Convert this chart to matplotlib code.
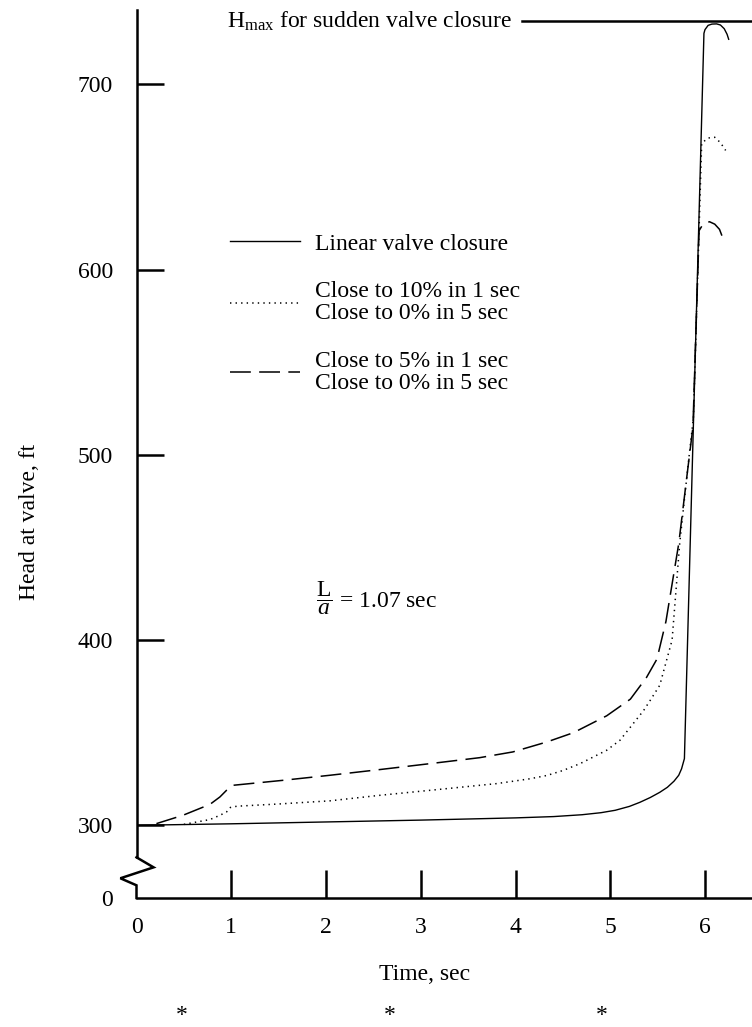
#!/usr/bin/env python3
"""
Head at valve vs time for three valve closure schedules
"""
import matplotlib
matplotlib.use('Agg')
import matplotlib.pyplot as plt

plt.rcParams['font.family'] = ['Liberation Serif', 'DejaVu Serif']
plt.rcParams['mathtext.fontset'] = 'custom'
plt.rcParams['mathtext.rm'] = 'Liberation Serif'
plt.rcParams['mathtext.it'] = 'Liberation Serif:italic'
plt.rcParams['lines.scale_dashes'] = False

# linear valve closure
t_linear = [0.0, 1.0, 2.0, 3.0, 4.0, 4.4, 4.7, 4.9, 5.05, 5.2, 5.31, 5.42,
            5.52, 5.6, 5.67, 5.72, 5.75, 5.78, 5.986, 5.997, 6.03, 6.07,
            6.12, 6.16, 6.20, 6.23, 6.247]
h_linear = [300.0, 300.8, 301.8, 302.8, 304.0, 304.7, 305.7, 306.8, 308.1,
            310.2, 312.4, 315.0, 317.8, 320.5, 323.8, 327.0, 330.5, 336.0,
            727.5, 729.5, 731.8, 732.5, 732.6, 732.0, 730.0, 727.0, 724.3]

# close to 10% in 1 sec, to 0% in 5 sec
t_10 = [0.50, 0.775, 0.88, 0.95, 0.99, 1.06, 1.5, 2.04, 2.57, 3.10, 3.80,
        4.15, 4.33, 4.50, 4.68, 4.96, 5.10, 5.24, 5.35, 5.42, 5.52, 5.65,
        5.73, 5.82, 5.875, 5.962, 6.03, 6.10, 6.16, 6.215]
h_10 = [300.5, 303.1, 305.4, 307.2, 309.6, 310.3, 311.5, 313.2, 316.2, 318.9,
        322.5, 325.1, 326.9, 329.6, 333.3, 340.5, 345.9, 354.9, 362.0, 367.5,
        375.6, 400.0, 452.0, 495.0, 520.0, 668.2, 671.0, 671.4, 668.5, 664.3]

# close to 5% in 1 sec, to 0% in 5 sec
t_5 = [0.21, 0.49, 0.775, 0.88, 0.95, 1.02, 1.55, 2.04, 2.57, 3.10, 3.62,
       3.97, 4.15, 4.33, 4.61, 4.96, 5.21, 5.38, 5.49, 5.585, 5.72, 5.81,
       5.87, 5.935, 5.98, 6.045, 6.10, 6.15, 6.18]
h_5 = [300.9, 305.4, 311.3, 315.3, 318.9, 321.6, 324.3, 327.0, 330.1, 333.3,
       336.5, 339.6, 342.3, 345.0, 350.0, 359.1, 368.1, 379.8, 389.7, 410.0,
       452.0, 490.0, 515.0, 621.0, 624.8, 625.8, 624.5, 621.7, 617.7]

labels = ['Linear valve closure',
          'Close to 10% in 1 sec\nClose to 0% in 5 sec',
          'Close to 5% in 1 sec\nClose to 0% in 5 sec']

y_ticks = [300, 400, 500, 600, 700]
x_ticks = [0, 1, 2, 3, 4, 5, 6]
H_MAX = 734.2
L_OVER_A = 1.07

# axis range, the bottom is the broken "0" level
X_MAX = 6.493
Y_TOP = 740.1
Y_BREAK = 260.75

FS = 17
AXW = 1.8

fig = plt.figure(figsize=(7.52, 10.27), dpi=100)
ax = fig.add_axes([136.5 / 752, 1 - 898 / 1027, 1 - 136.5 / 752, 888 / 1027])
ax.set_xlim(0, X_MAX)
ax.set_ylim(Y_BREAK, Y_TOP)

ax.plot(t_linear, h_linear, color='black', lw=1.0, label=labels[0])
ax.plot(t_10, h_10, color='black', lw=1.1, linestyle=(0, (1, 3)),
        label=labels[1])
ax.plot(t_5, h_5, color='black', lw=1.1, linestyle=(0, (15, 6)),
        label=labels[2])

# axes: left spine broken by a zigzag above the bottom axis
for side in ['top', 'right']:
    ax.spines[side].set_visible(False)
ax.spines['bottom'].set_linewidth(AXW)
ax.spines['left'].set_linewidth(AXW)
ax.spines['left'].set_bounds(282.7, Y_TOP)
ax.plot([0, 0.18, -0.17, 0, 0], [282.7, 277.3, 271.4, 267.6, Y_BREAK],
        color='black', lw=AXW, clip_on=False, solid_joinstyle='miter')

ax.set_xticks(x_ticks)
ax.set_xticklabels([str(v) for v in x_ticks])
ax.tick_params(axis='x', direction='in', length=20, width=AXW, pad=14,
               labelsize=FS)
ax.xaxis.get_major_ticks()[0].tick1line.set_visible(False)

ax.set_yticks([Y_BREAK] + y_ticks)
ax.set_yticklabels(['0'] + [str(v) for v in y_ticks])
ax.tick_params(axis='y', direction='in', length=19.4, width=AXW, pad=17,
               labelsize=FS)
ax.yaxis.get_major_ticks()[0].tick1line.set_visible(False)

# sudden closure level
ax.plot([4.07, X_MAX], [H_MAX, H_MAX], color='black', lw=AXW, clip_on=False)
fig.text(512 / 752, 1 - 21 / 1027,
         r'H$_{\mathrm{max}}$ for sudden valve closure',
         ha='right', va='center', fontsize=FS)

fig.text(316 / 752, 1 - 598 / 1027,
         r'$\dfrac{\mathrm{L}}{a}$ = ' + f'{L_OVER_A:.2f} sec',
         ha='left', va='center', fontsize=FS)

leg = ax.legend(loc='upper left', bbox_to_anchor=(230 / 752, 1 - 233 / 1027),
                bbox_transform=fig.transFigure, frameon=False, fontsize=FS,
                handlelength=2.96, handletextpad=0.64, labelspacing=1.14,
                borderpad=0, borderaxespad=0)
for txt in leg.get_texts():
    txt.set_linespacing(1.05)

fig.text(30 / 752, 1 - 522 / 1027, 'Head at valve, ft', rotation=90,
         ha='center', va='center', fontsize=FS)
fig.text(425 / 752, 1 - 975 / 1027, 'Time, sec', ha='center', va='center',
         fontsize=FS)

for xp in [182, 390, 602]:
    fig.text(xp / 752, 1 - 1026 / 1027, '*', ha='center', va='bottom',
             fontsize=FS)

fig.savefig('out.png', dpi=100)
